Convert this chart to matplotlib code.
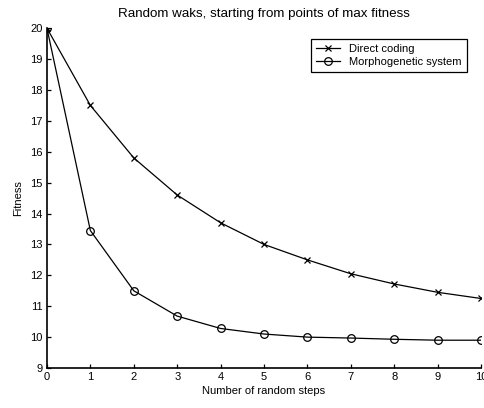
import matplotlib
matplotlib.use("Agg")
import matplotlib.pyplot as plt
import numpy as np

steps = np.arange(0, 11)
direct = [20.0, 17.5, 15.8, 14.6, 13.7, 13.0, 12.5, 12.05, 11.72, 11.45, 11.25]
morpho = [20.0, 13.45, 11.5, 10.68, 10.28, 10.1, 10.0, 9.97, 9.93, 9.9, 9.9]

plt.rcParams["font.family"] = "Liberation Sans"
plt.rcParams["font.size"] = 8

fig = plt.figure(figsize=(4.84, 4.08), dpi=100)
ax = fig.add_axes([0.097, 0.098, 0.897, 0.833])

ax.plot(steps, direct, color="black", linewidth=0.9, marker="x", markersize=4,
        markeredgewidth=0.9, label="Direct coding")
ax.plot(steps, morpho, color="black", linewidth=0.9, marker="o", markersize=5.5,
        markerfacecolor="none", markeredgewidth=0.9, label="Morphogenetic system")

ax.set_xlim(0, 10)
ax.set_ylim(9, 20)
ax.set_xticks(np.arange(0, 11, 1))
ax.set_yticks(np.arange(9, 21, 1))
ax.tick_params(direction="in", length=3, width=0.9, pad=3)
ax.spines["top"].set_visible(False)
ax.spines["right"].set_visible(False)
for s in ["left", "bottom"]:
    ax.spines[s].set_linewidth(1.2)

ax.set_xlabel("Number of random steps", labelpad=3)
ax.set_ylabel("Fitness", labelpad=5)
ax.set_title("Random waks, starting from points of max fitness", pad=8)

leg = ax.legend(loc="upper right", bbox_to_anchor=(0.98, 0.985), frameon=True,
                fancybox=False, edgecolor="black", framealpha=1,
                handlelength=2.2, borderpad=0.45, labelspacing=0.3)
leg.get_frame().set_linewidth(0.9)

fig.savefig("out.png", dpi=100)
